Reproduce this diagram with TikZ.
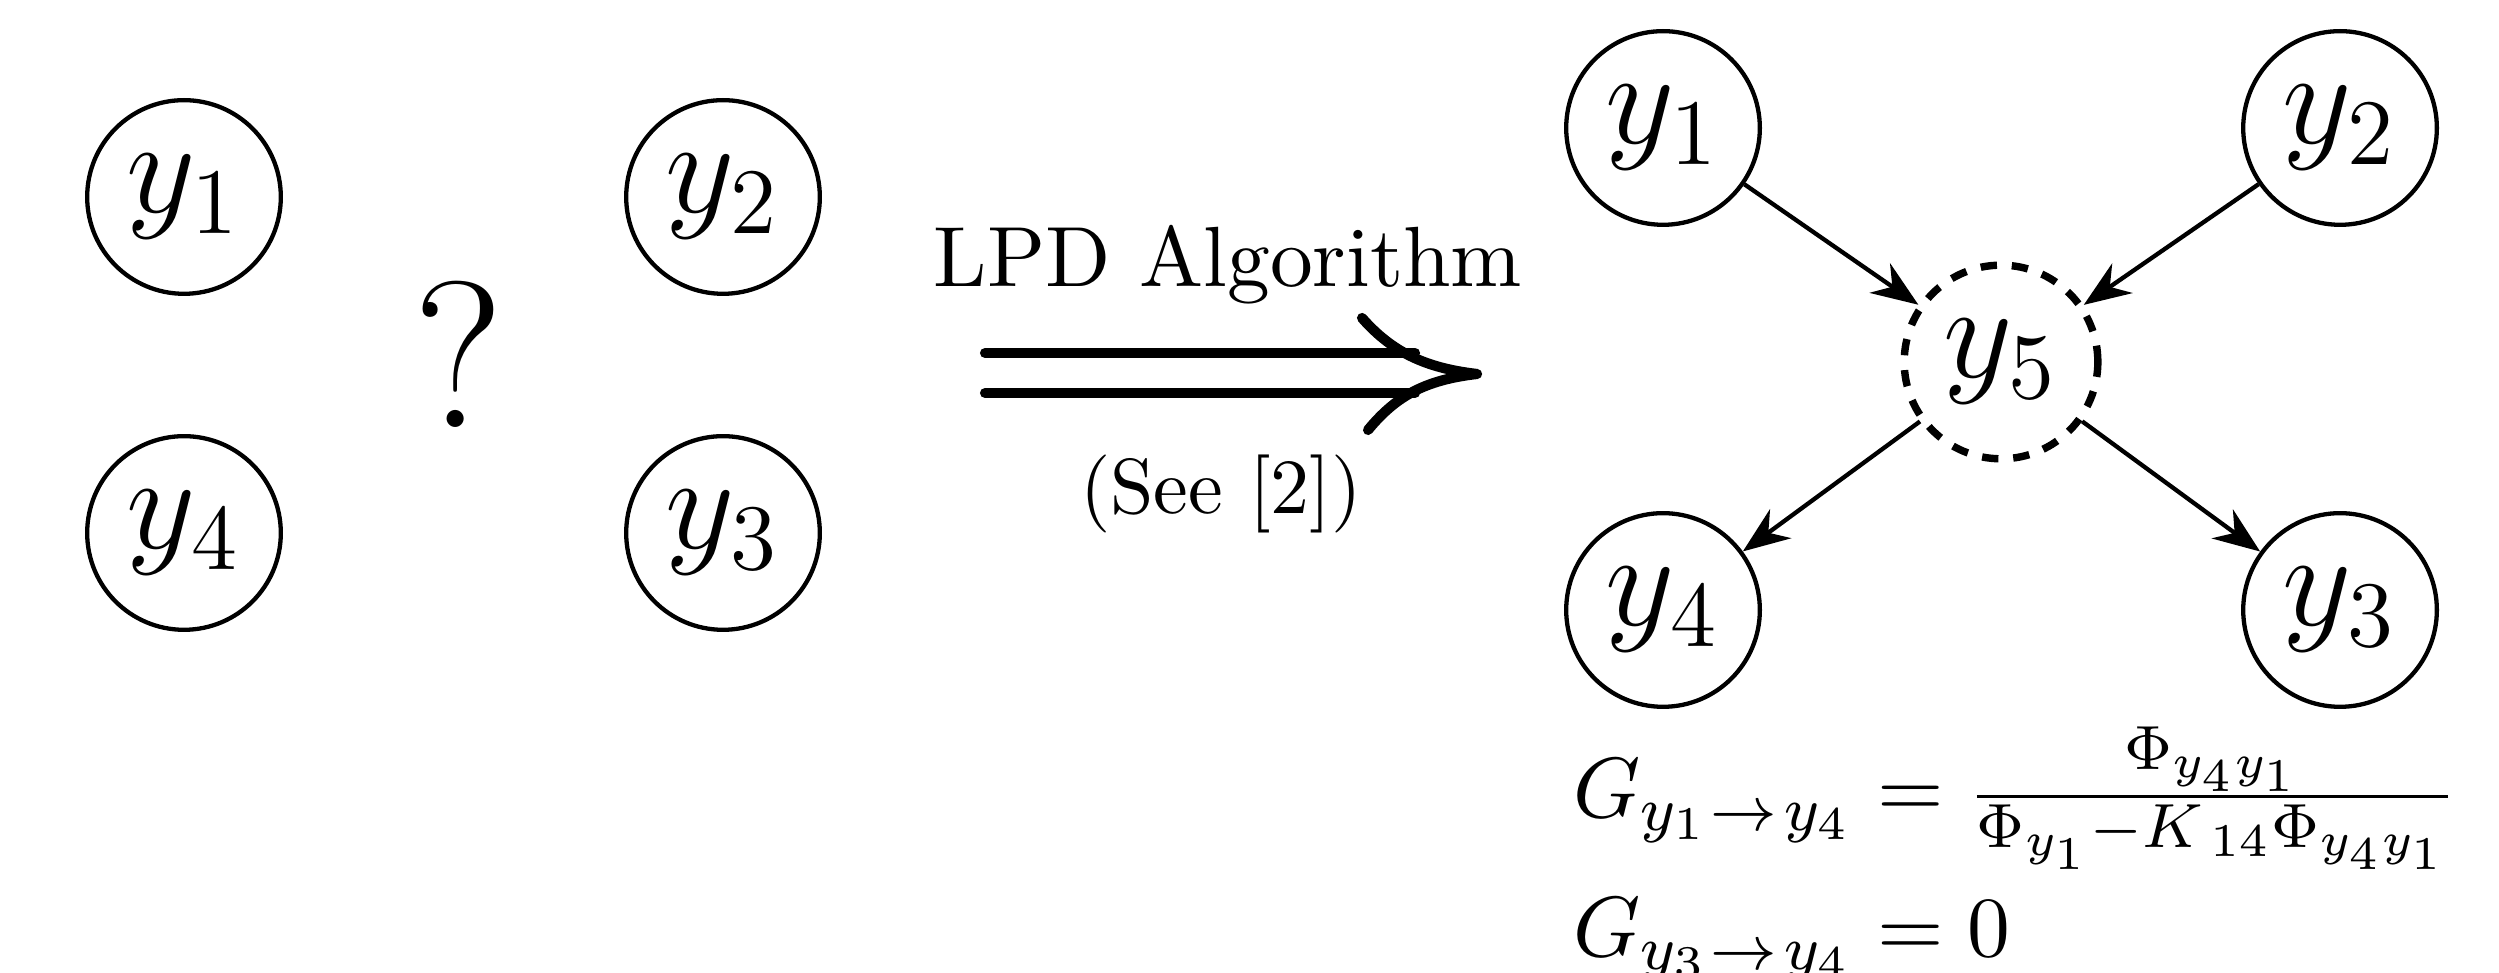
\documentclass[tikz,border=0pt]{standalone}
\usepackage{amsmath}
\usetikzlibrary{arrows.meta}
\begin{document}
\begin{tikzpicture}[x=0.0045cm,y=-0.0045cm,
  var/.style={circle,draw,line width=0.55pt,minimum size=24.8pt,inner sep=0pt,font=\LARGE},
  hidden/.style={var,line width=0.95pt,dash pattern=on 2.1pt off 1.9pt},
  edge/.style={line width=0.55pt,-{Stealth[length=6pt,width=4.6pt]}},
  bigarrow/.style={line width=1.3pt,line cap=round,line join=round},
  formula/.style={anchor=base west,inner sep=0pt,font=\fontsize{10.95}{13}\selectfont}]
\useasboundingbox (0,0) rectangle (2499,973);
% left group
\node[var] (a1) at (184,197) {$y_1$};
\node[var] (a2) at (723,197) {$y_2$};
\node[var] (a4) at (184,533) {$y_4$};
\node[var] (a3) at (723,533) {$y_3$};
\node[font=\fontsize{26.7}{30}\selectfont] (q) at (459,354) {?};
% middle
\node[anchor=base,font=\fontsize{10.95}{13}\selectfont] (lpd) at (1228,287) {LPD Algorithm};
\node[anchor=base] (see) at (1221,514) {(See [2])};
\coordinate (s1) at (985,353);
\coordinate (e1) at (1415,353);
\coordinate (s2) at (985,393);
\coordinate (e2) at (1415,393);
\coordinate (ht) at (1362,318);
\coordinate (tip) at (1477,374);
\coordinate (hb) at (1368,430);
\draw[bigarrow] (s1) -- (e1);
\draw[bigarrow] (s2) -- (e2);
\draw[bigarrow] (ht) .. controls (1392,352) and (1425,368) .. (tip)
  .. controls (1425,380) and (1396,396) .. (hb);
% right group
\node[var] (b1) at (1663,128) {$y_1$};
\node[var] (b2) at (2340,128) {$y_2$};
\node[hidden] (b5) at (2001,362) {$y_5$};
\node[var] (b4) at (1663,610) {$y_4$};
\node[var] (b3) at (2340,610) {$y_3$};
\draw[edge] (b1) -- (b5);
\draw[edge] (b2) -- (b5);
\draw[edge] (b5) -- (b4);
\draw[edge] (b5) -- (b3);
% formulas
\node[formula] (f1) at (1572,818)
  {$G_{y_1\kern0.5pt\to\kern1pt y_4} = \frac{\Phi_{y_4y_1}}{\Phi_{y_1}{-}K_{\kern1.5pt 14}\Phi_{y_4y_1}}$};
\node[formula] (f2) at (1572,957)
  {$G_{y_3\kern0.5pt\to\kern1pt y_4} = 0$};
\end{tikzpicture}
\end{document}
